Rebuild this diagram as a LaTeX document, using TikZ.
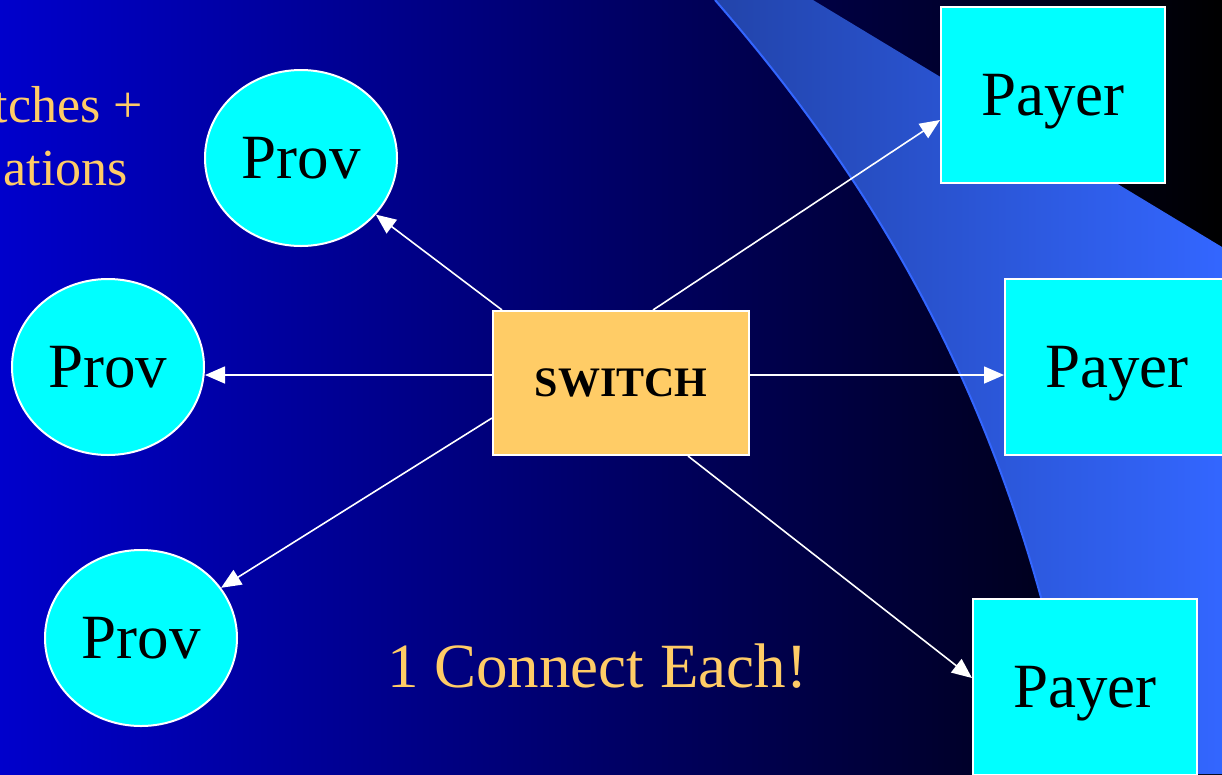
\documentclass[tikz,border=0pt]{standalone}
\usepackage{fontspec}
\setmainfont{Liberation Serif}
\usetikzlibrary{positioning, shapes.geometric, arrows.meta}

\definecolor{bgblue}{RGB}{0,0,204}
\definecolor{bandlo}{RGB}{34,68,170}
\definecolor{bandhi}{RGB}{51,102,255}
\definecolor{gold}{RGB}{255,204,102}
\definecolor{aqua}{RGB}{0,255,255}

\begin{document}
\begin{tikzpicture}[x=1pt, y=-1pt,
    prov/.style={ellipse, draw=white, line width=2pt, fill=aqua,
        minimum width=192pt, minimum height=176pt, inner sep=0pt, text depth=0pt,
        font=\fontsize{63}{63}\selectfont},
    payer/.style={rectangle, draw=white, line width=2pt, fill=aqua,
        minimum width=224pt, minimum height=176pt, inner sep=0pt, text depth=0pt,
        font=\fontsize{63}{63}\selectfont},
    hub/.style={rectangle, draw=white, line width=2pt, fill=gold,
        minimum width=256pt, minimum height=144pt, inner sep=0pt, text depth=0pt,
        font=\fontsize{42}{42}\selectfont\bfseries},
    note/.style={text=gold, inner sep=0pt},
    link/.style={draw=white, line width=1.6pt, -{Triangle[length=20pt,width=17pt]}}]
    \useasboundingbox (0,0) rectangle (1222,774);
    \shade[left color=bgblue, right color=black] (0,0) rectangle (1222,774);
    \shade[left color=bandlo, right color=bandhi]
        (715,0) .. controls (880,190) and (1020,420) .. (1080,774)
        -- (1222,774) -- (1222,247) -- (813,0) -- cycle;
    \draw[bandhi, line width=2pt] (715,0) .. controls (880,190) and (1020,420) .. (1080,774);

    \node[note, anchor=base east, font=\fontsize{52}{52}\selectfont] (Sw1) at (143,122) {tches +};
    \node[note, anchor=base east, font=\fontsize{52}{52}\selectfont] (Ap1) at (128,185) {ations};

    \node[prov] (Prov1) at (301,158) {Prov};
    \node[prov] (Prov2) at (108,367) {Prov};
    \node[prov] (Prov3) at (141,638) {Prov};

    \node[hub] (Sw) at (621,383) {SWITCH};

    \node[payer] (Pay1) at (1053,95) {Payer};
    \node[payer] (Pay2) at (1117,367) {Payer};
    \node[payer] (Pay3) at (1085,687) {Payer};

    \node[note, anchor=base, font=\fontsize{63}{63}\selectfont] (Each) at (597,687) {1 Connect Each!};

    \draw[link] ([xshift=10pt]Sw.north west) -- (Prov1);
    \draw[link] ([yshift=8pt]Sw.west) -- ([yshift=-8pt]Prov2.east);
    \draw[link] ([yshift=-35pt]Sw.west) -- (Prov3);
    \draw[link] ([xshift=32pt]Sw.north) -- ([yshift=-25pt]Pay1.west);
    \draw[link] ([yshift=8pt]Sw.east) -- ([yshift=-8pt]Pay2.west);
    \draw[link] ([xshift=67pt]Sw.south) -- ([yshift=9pt]Pay3.west);
\end{tikzpicture}
\end{document}
